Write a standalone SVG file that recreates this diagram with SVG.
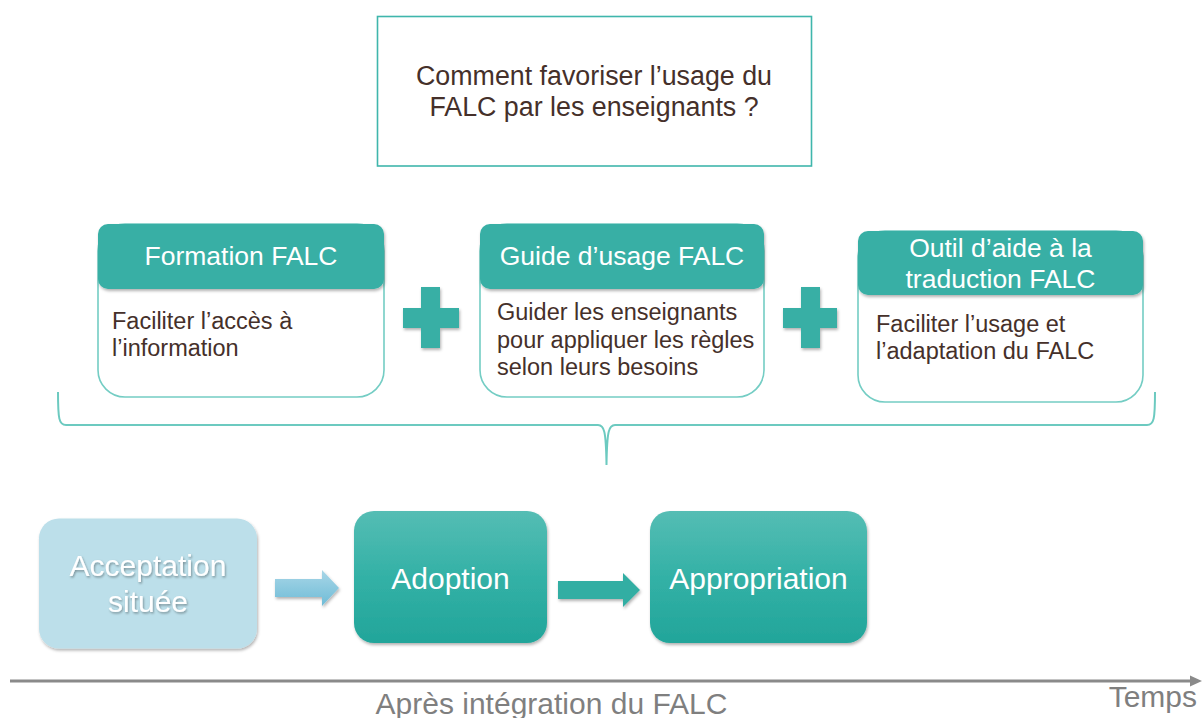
<svg xmlns="http://www.w3.org/2000/svg" width="1204" height="718" viewBox="0 0 1204 718">
<defs>
<style>
.t{font-family:"Liberation Sans",Arial,sans-serif}
.q{font-size:26.8px;fill:#45302a;text-anchor:middle}
.hd{font-size:26.5px;fill:#ffffff;text-anchor:middle}
.bd{font-size:23.5px;fill:#45302a}
.card{fill:#ffffff;stroke:#74cdc4;stroke-width:1.6}
.head{fill:#37afa5}
.big{font-size:30px;fill:#ffffff;text-anchor:middle}
.ax{font-size:30px;fill:#7f7f7f}
</style>
<filter id="sh" x="-20%" y="-20%" width="140%" height="150%">
<feDropShadow dx="1" dy="2" stdDeviation="1.6" flood-color="#000" flood-opacity="0.3"/>
</filter>
<filter id="tsh" x="-10%" y="-20%" width="120%" height="150%">
<feDropShadow dx="1" dy="1.5" stdDeviation="1.2" flood-color="#000" flood-opacity="0.35"/>
</filter>
<linearGradient id="tg" x1="0" y1="0" x2="0" y2="1">
<stop offset="0" stop-color="#55bdb4"/>
<stop offset="0.5" stop-color="#33b1a6"/>
<stop offset="1" stop-color="#22a59a"/>
</linearGradient>
<linearGradient id="bg" x1="0" y1="0" x2="0" y2="1">
<stop offset="0" stop-color="#a8d6e7"/>
<stop offset="1" stop-color="#6fbcd7"/>
</linearGradient>
</defs>

<g id="question">
<rect x="377.5" y="16.5" width="434" height="149.5" fill="#ffffff" stroke="#3fb6ac" stroke-width="1.6"/>
<text class="t q" x="594" y="85">Comment favoriser l’usage du</text>
<text class="t q" x="594" y="116">FALC par les enseignants ?</text>
</g>

<g id="card-formation">
<rect class="card" x="98" y="224" width="286" height="173" rx="27"/>
<rect class="head" x="98" y="224" width="286" height="65" rx="10" filter="url(#sh)"/>
<text class="t hd" x="241" y="265">Formation FALC</text>
<text class="t bd" x="112" y="329">Faciliter l’accès à</text>
<text class="t bd" x="112" y="356">l’information</text>
</g>

<g id="plus1" fill="#38afa5" filter="url(#sh)">
<path d="M421,287 H440 V308 H459 V328 H440 V348 H421 V328 H403 V308 H421 Z"/>
</g>

<g id="card-guide">
<rect class="card" x="480" y="224" width="284" height="173" rx="27"/>
<rect class="head" x="480" y="224" width="284" height="65" rx="10" filter="url(#sh)"/>
<text class="t hd" x="622" y="265">Guide d’usage FALC</text>
<text class="t bd" x="497" y="320">Guider les enseignants</text>
<text class="t bd" x="497" y="347.5">pour appliquer les règles</text>
<text class="t bd" x="497" y="375">selon leurs besoins</text>
</g>

<g id="plus2" fill="#38afa5" filter="url(#sh)">
<path d="M801,287 H820 V308 H837 V328 H820 V348 H801 V328 H783 V308 H801 Z"/>
</g>

<g id="card-outil">
<rect class="card" x="858" y="231" width="285" height="171" rx="27"/>
<rect class="head" x="858" y="231" width="285" height="64" rx="10" filter="url(#sh)"/>
<text class="t hd" x="1000.5" y="257">Outil d’aide à la</text>
<text class="t hd" x="1000.5" y="288">traduction FALC</text>
<text class="t bd" x="876" y="332">Faciliter l’usage et</text>
<text class="t bd" x="876" y="359">l’adaptation du FALC</text>
</g>

<g id="brace">
<path d="M58,392 C58,419 59,425 66,425 H598 C604,425 606,430 606.5,465 C607,430 609,425 615,425 H1147 C1154,425 1155,419 1155,392" fill="none" stroke="#6ccac0" stroke-width="2"/>
</g>

<g id="acceptation">
<rect x="39" y="518.5" width="218" height="130" rx="20" fill="#bcdfea" filter="url(#sh)"/>
<text class="t big" x="148" y="576" filter="url(#tsh)">Acceptation</text>
<text class="t big" x="148" y="612" filter="url(#tsh)">située</text>
</g>

<g id="adoption">
<rect x="354" y="511" width="193" height="132" rx="20" fill="url(#tg)" filter="url(#sh)"/>
<text class="t big" x="450.5" y="589">Adoption</text>
</g>

<g id="appropriation">
<rect x="650" y="511" width="217" height="132" rx="20" fill="url(#tg)" filter="url(#sh)"/>
<text class="t big" x="758.5" y="589">Appropriation</text>
</g>

<g id="connectors">
<path d="M275,579 H322 V570 L339,588 L322,606 V597 H275 Z" fill="url(#bg)" filter="url(#sh)"/>
<path d="M558,581 H623 V573 L640,590 L623,607 V599 H558 Z" fill="#31aea3" filter="url(#sh)"/>
</g>

<g id="axis">
<line x1="10" y1="681" x2="1192" y2="681" stroke="#8a8a8a" stroke-width="3"/>
<polygon points="1190,675.5 1202,681 1190,686.5" fill="#8a8a8a"/>
<text class="t ax" x="551.5" y="714" text-anchor="middle">Après intégration du FALC</text>
<text class="t ax" x="1197" y="707" text-anchor="end">Temps</text>
</g>
</svg>
